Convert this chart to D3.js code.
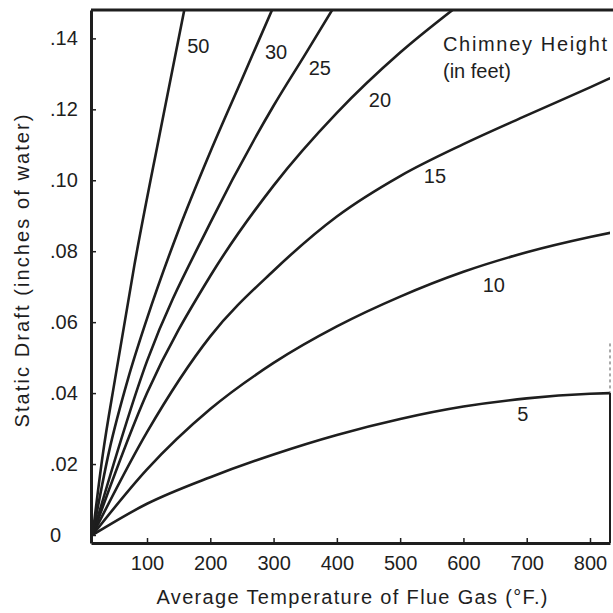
<!DOCTYPE html>
<html>
<head>
<meta charset="utf-8">
<script src="https://cdn.jsdelivr.net/npm/d3@7"></script>
<style>
  body { margin: 0; background: #fff; }
  text { font-family: "Liberation Sans", Arial, sans-serif; fill: #1e1e1e; }
</style>
</head>
<body>
<div id="chart"></div>
<script>
// chimney heights (feet) and the curve read for each one
var heights = ["5", "10", "15", "20", "25", "30", "50"];

var temps5  = [14, 100, 200, 300, 400, 500, 600, 700, 800, 832];
var draft5  = [0, .0088, .0163, .0227, .0282, .0327, .0362, .0385, .0398, .0400];
var temps10 = [14, 100, 200, 300, 400, 500, 600, 700, 800, 832];
var draft10 = [0, .0185, .0355, .0485, .0588, .0672, .0742, .0797, .0840, .0852];
var temps15 = [14, 100, 200, 300, 400, 500, 600, 700, 800, 832];
var draft15 = [0, .0290, .0560, .0745, .0898, .1012, .1102, .1183, .1262, .1288];
var temps20 = [14, 100, 200, 300, 400, 500, 590];
var draft20 = [0, .0400, .0730, .0985, .1190, .1360, .1490];
var temps25 = [14, 100, 200, 300, 350, 396];
var draft25 = [0, .0490, .0880, .1210, .1355, .1490];
var temps30 = [14, 40, 70, 100, 150, 200, 250, 300];
var draft30 = [0, .0235, .0440, .0610, .0860, .1080, .1285, .1490];
var temps50 = [14, 30, 50, 80, 120, 160];
var draft50 = [0, .0225, .0445, .0760, .1130, .1490];

var tempsAll = [temps5, temps10, temps15, temps20, temps25, temps30, temps50];
var draftAll = [draft5, draft10, draft15, draft20, draft25, draft30, draft50];

// axis ticks
var xTicks = [100, 200, 300, 400, 500, 600, 700, 800];
var yTicks = [.14, .12, .10, .08, .06, .04, .02, 0];
var yTickLabels = [".14", ".12", ".10", ".08", ".06", ".04", ".02", "0"];

// where each height label sits (temp, draft)
var labelTemp  = [694, 648, 555, 468, 373, 304, 181];
var labelDraft = [.0341, .0705, .1012, .1226, .1317, .1362, .1379];

var W = 613, H = 613;
var margin = {top: 10, right: 3, bottom: 70, left: 91},
    width = W - margin.left - margin.right,
    height = H - margin.top - margin.bottom;

var svg = d3.select("#chart")
  .append("svg")
    .attr("width", W)
    .attr("height", H)
  .append("g")
    .attr("transform", "translate(" + margin.left + "," + margin.top + ")");

var x = d3.scaleLinear()
  .domain([11.5, 831.6])
  .range([0, width]);

var y = d3.scaleLinear()
  .domain([-0.00226, 0.1480])
  .range([height, 0]);

svg.append("defs").append("clipPath")
    .attr("id", "plot")
  .append("rect")
    .attr("width", width)
    .attr("height", height);

// curves
var line = d3.line()
  .x(function(d) { return x(d[0]) })
  .y(function(d) { return y(d[1]) })
  .curve(d3.curveMonotoneX);

heights.forEach(function(h, i) {
  var pts = tempsAll[i].map(function(t, j) { return [t, draftAll[i][j]] });
  svg.append("path")
    .datum(pts)
    .attr("clip-path", "url(#plot)")
    .attr("d", line)
    .attr("fill", "none")
    .attr("stroke", "#1e1e1e")
    .attr("stroke-width", 2.6)
    .attr("stroke-linejoin", "round");

  svg.append("text")
    .attr("x", x(labelTemp[i]))
    .attr("y", y(labelDraft[i]))
    .attr("dy", ".35em")
    .attr("text-anchor", "middle")
    .style("font-size", "20px")
    .text(h);
});

// x axis
var xAxis = svg.append("g")
  .attr("transform", "translate(0," + height + ")")
  .call(d3.axisBottom(x).tickValues(xTicks).tickSize(-5).tickSizeOuter(0).tickPadding(13));
xAxis.select(".domain").attr("stroke", "#1e1e1e").attr("stroke-width", 3);
xAxis.selectAll(".tick line").attr("stroke", "#1e1e1e").attr("stroke-width", 1.5);
xAxis.selectAll(".tick text")
  .style("font-size", "20px")
  .style("font-family", "Liberation Sans, Arial, sans-serif")
  .attr("fill", "#1e1e1e");

// y axis, labels are flush left in the original
var yAxis = svg.append("g")
  .call(d3.axisLeft(y).tickValues(yTicks).tickSize(-5).tickSizeOuter(0)
    .tickFormat(function(d, i) { return yTickLabels[i] }));
yAxis.select(".domain").attr("stroke", "#1e1e1e").attr("stroke-width", 3);
yAxis.selectAll(".tick line").attr("stroke", "#1e1e1e").attr("stroke-width", 1.5);
yAxis.selectAll(".tick text")
  .attr("x", -41)
  .attr("text-anchor", "start")
  .style("font-size", "20px")
  .style("font-family", "Liberation Sans, Arial, sans-serif")
  .attr("fill", "#1e1e1e");

// top frame and the short right edge
svg.append("line")
  .attr("x1", 0).attr("x2", width + margin.right)
  .attr("y1", 0).attr("y2", 0)
  .attr("stroke", "#1e1e1e").attr("stroke-width", 3);
svg.append("line")
  .attr("x1", width).attr("x2", width)
  .attr("y1", y(0.0400)).attr("y2", height)
  .attr("stroke", "#1e1e1e").attr("stroke-width", 2);
svg.append("line")
  .attr("x1", width).attr("x2", width)
  .attr("y1", y(0.0540)).attr("y2", y(0.0400))
  .attr("stroke", "#555").attr("stroke-width", 1)
  .attr("stroke-dasharray", "3,3");

// legend note
svg.append("text")
  .attr("x", 443 - margin.left)
  .attr("y", 51 - margin.top)
  .attr("textLength", 164)
  .attr("lengthAdjust", "spacing")
  .style("font-size", "20px")
  .text("Chimney Height");
svg.append("text")
  .attr("x", 443 - margin.left)
  .attr("y", 78 - margin.top)
  .style("font-size", "20px")
  .text("(in feet)");

// axis titles
svg.append("text")
  .attr("x", 352 - margin.left)
  .attr("y", 604 - margin.top)
  .attr("text-anchor", "middle")
  .attr("textLength", 391)
  .attr("lengthAdjust", "spacing")
  .style("font-size", "20px")
  .text("Average Temperature of Flue Gas (\u00b0F.)");

svg.append("text")
  .attr("transform", "translate(" + (29 - margin.left) + "," + (271 - margin.top) + ") rotate(-90)")
  .attr("text-anchor", "middle")
  .attr("textLength", 313)
  .attr("lengthAdjust", "spacing")
  .style("font-size", "20px")
  .text("Static Draft (inches of water)");
</script>
</body>
</html>
